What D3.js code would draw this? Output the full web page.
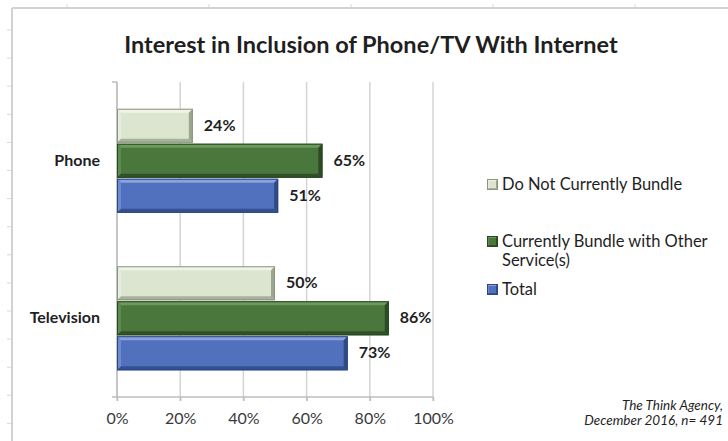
<!DOCTYPE html>
<html>
<head>
<meta charset="utf-8">
<script src="https://cdn.jsdelivr.net/npm/d3@7"></script>
<style>
  html, body { margin: 0; padding: 0; background: #fff; }
  svg { display: block; }
  text { font-family: Lato, "Open Sans", sans-serif; }
</style>
</head>
<body>
<svg id="chart" width="728" height="441"></svg>
<script>
// Chart data
const categories = ["Phone", "Television"];
const seriesNames = ["Do Not Currently Bundle", "Currently Bundle with Other Service(s)", "Total"];
const doNotBundle = [24, 50];
const bundleOther = [65, 86];
const total = [51, 73];
const xTicks = [0, 20, 40, 60, 80, 100];
const legendLines = [["Do Not Currently Bundle"], ["Currently Bundle with Other", "Service(s)"], ["Total"]];
const titleText = "Interest in Inclusion of Phone/TV With Internet";
const sourceLines = ["The Think Agency,", "December 2016, n= 491"];

const seriesValues = [doNotBundle, bundleOther, total];

// Bevel palettes per series: face, top light, left light, bottom dark, right dark, outline
const palettes = [
  { face: "#dce5cf", top: "#eff3e8", left: "#e6ece0", bottom: "#a8b29b", right: "#9ba58f", stroke: "#8a9480" },
  { face: "#4a773c", top: "#6c9a5d", left: "#5d8a4f", bottom: "#31512a", right: "#2c4a25", stroke: "#2a4723" },
  { face: "#5171bf", top: "#8aa2dc", left: "#6e8bd0", bottom: "#33508f", right: "#2f4a86", stroke: "#2d4680" }
];

const svg = d3.select("#chart");

// Worksheet frame with small ruler ticks
const frame = svg.append("g");
frame.append("line").attr("x1", 12).attr("x2", 728).attr("y1", 8).attr("y2", 8)
  .attr("stroke", "#d2d2d2").attr("stroke-width", 2);
frame.append("line").attr("x1", 12).attr("x2", 12).attr("y1", 8).attr("y2", 441)
  .attr("stroke", "#d2d2d2").attr("stroke-width", 2);
const leftTicks = d3.range(30, 441, 28.1);
frame.selectAll("line.lt").data(leftTicks).join("line")
  .attr("x1", 7).attr("x2", 11).attr("y1", d => d).attr("y2", d => d)
  .attr("stroke", "#d8d8d8").attr("stroke-width", 1);
const topTicks = d3.range(67, 728, 142);
frame.selectAll("line.tt").data(topTicks).join("line")
  .attr("x1", d => d).attr("x2", d => d).attr("y1", 4).attr("y2", 7)
  .attr("stroke", "#d8d8d8").attr("stroke-width", 1);

// Title
svg.append("text")
  .attr("x", 371).attr("y", 53)
  .attr("text-anchor", "middle")
  .attr("font-size", 23.5).attr("font-weight", "bold")
  .attr("fill", "#1f1f1f")
  .text(titleText);

// Scales
const plot = { left: 117, right: 433, top: 82, bottom: 397 };
const x = d3.scaleLinear().domain([0, 100]).range([plot.left, plot.right]);
const y = d3.scaleBand().domain(categories).range([plot.top, plot.bottom])
  .paddingInner(1 / 3).paddingOuter(1 / 6);
const ySub = d3.scaleBand().domain(d3.range(seriesNames.length)).range([0, y.bandwidth()]);

// Gridlines
const grid = svg.append("g");
grid.selectAll("line").data(xTicks).join("line")
  .attr("x1", d => x(d)).attr("x2", d => x(d))
  .attr("y1", plot.top).attr("y2", plot.bottom + 4)
  .attr("stroke", "#d4d4d4").attr("stroke-width", 1.5);
// small tick left of the value axis top
grid.append("line").attr("x1", plot.left - 5).attr("x2", plot.left)
  .attr("y1", plot.top).attr("y2", plot.top)
  .attr("stroke", "#bdbdbd").attr("stroke-width", 1.5);
grid.append("line").attr("x1", plot.left).attr("x2", plot.left)
  .attr("y1", plot.top).attr("y2", plot.bottom)
  .attr("stroke", "#bdbdbd").attr("stroke-width", 1.5);

// Bottom axis
const xAxis = d3.axisBottom(x).tickValues(xTicks).tickFormat(d => d + "%").tickSize(4).tickPadding(12);
const axisG = svg.append("g").attr("transform", `translate(0,${plot.bottom})`).call(xAxis);
axisG.select(".domain").attr("stroke", "#bdbdbd").attr("stroke-width", 1.5)
  .attr("d", `M${plot.left - 5},0H${plot.right}`);
axisG.selectAll(".tick line").attr("stroke", "#bdbdbd").attr("stroke-width", 1.5);
axisG.selectAll(".tick text")
  .attr("font-family", "Lato, sans-serif")
  .attr("font-size", 16).attr("fill", "#3a3a3a");

// Beveled bar
function bevelBar(g, x0, x1, y0, y1, p, b) {
  const w = x1 - x0, h = y1 - y0;
  b = Math.min(b, w / 2, h / 2);
  g.append("rect").attr("x", x0).attr("y", y0).attr("width", w).attr("height", h).attr("fill", p.face);
  const poly = (pts, fill) => g.append("polygon").attr("points", pts.map(q => q.join(",")).join(" ")).attr("fill", fill);
  poly([[x0, y0], [x1, y0], [x1 - b, y0 + b], [x0 + b, y0 + b]], p.top);
  poly([[x0, y0], [x0 + b, y0 + b], [x0 + b, y1 - b], [x0, y1]], p.left);
  poly([[x0, y1], [x0 + b, y1 - b], [x1 - b, y1 - b], [x1, y1]], p.bottom);
  poly([[x1, y0], [x1, y1], [x1 - b, y1 - b], [x1 - b, y0 + b]], p.right);
  g.append("rect").attr("x", x0 + 0.5).attr("y", y0 + 0.5).attr("width", w - 1).attr("height", h - 1)
    .attr("fill", "none").attr("stroke", p.stroke).attr("stroke-width", 1);
}

// Bars and value labels
const barsG = svg.append("g");
categories.forEach((cat, ci) => {
  seriesValues.forEach((vals, si) => {
    const v = vals[ci];
    const y0 = y(cat) + ySub(si);
    const y1 = y0 + ySub.bandwidth();
    bevelBar(barsG, x(0), x(v), y0 + 0.5, y1 - 0.5, palettes[si], 4);
    barsG.append("text")
      .attr("x", x(v) + 11).attr("y", (y0 + y1) / 2 + 1)
      .attr("dominant-baseline", "middle")
      .attr("font-size", 16).attr("font-weight", "bold").attr("fill", "#1f1f1f")
      .text(v + "%");
  });
});

// Category labels
svg.append("g").selectAll("text").data(categories).join("text")
  .attr("x", 100).attr("y", d => y(d) + y.bandwidth() / 2 + 1)
  .attr("text-anchor", "end").attr("dominant-baseline", "middle")
  .attr("font-size", 16).attr("font-weight", "bold").attr("fill", "#1f1f1f")
  .text(d => d);

// Legend
const legendY = [185, 242, 290];
const legend = svg.append("g");
legendLines.forEach((lines, i) => {
  const cy = legendY[i];
  const sq = legend.append("g");
  bevelBar(sq, 487, 498, cy - 6, cy + 5, palettes[i], 2);
  lines.forEach((ln, j) => {
    legend.append("text")
      .attr("x", 502).attr("y", cy + j * 19 + 1)
      .attr("dominant-baseline", "middle")
      .attr("font-size", 16.5).attr("fill", "#1f1f1f")
      .text(ln);
  });
});

// Source note
svg.append("g").selectAll("text").data(sourceLines).join("text")
  .attr("x", 723).attr("y", (d, i) => 407 + i * 15)
  .attr("text-anchor", "end").attr("dominant-baseline", "middle")
  .attr("font-size", 13.5).attr("font-style", "italic").attr("fill", "#1f1f1f")
  .text(d => d);
</script>
</body>
</html>
